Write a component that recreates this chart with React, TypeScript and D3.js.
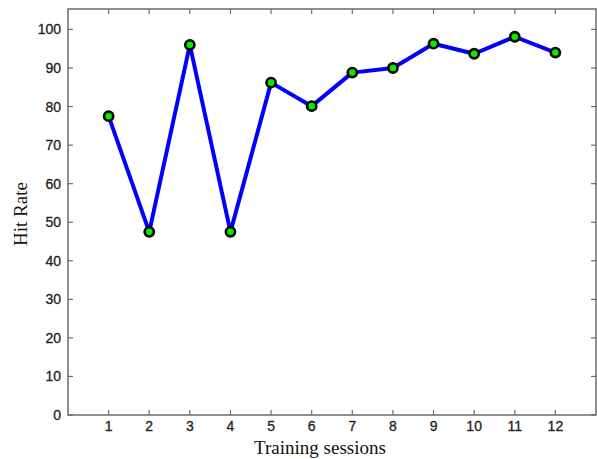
import React from "react";
import * as d3 from "d3";

const sessions = [1, 2, 3, 4, 5, 6, 7, 8, 9, 10, 11, 12];
const hitRate = [77.5, 47.5, 96, 47.5, 86.2, 80.1, 88.8, 90, 96.3, 93.7, 98.1, 94];
const yTicks = [0, 10, 20, 30, 40, 50, 60, 70, 80, 90, 100];
const xTicks = sessions;

export default function App() {
  const W = 597, H = 459;
  const left = 68, right = 596, top = 9, bottom = 415;
  const x = d3.scaleLinear().domain([0, 13]).range([left, right]);
  const y = d3.scaleLinear().domain([0, 105.3]).range([bottom, top]);
  const line = d3.line<number>().x((_, i) => x(sessions[i])).y((d) => y(d));
  const axisColor = "#6b6b6b";
  const tl = 5;
  return (
    <svg width={W} height={H} style={{ position: "absolute", left: 0, top: 0 }}>
      <rect x={0} y={0} width={W} height={H} fill="#fff" />
      <rect x={left} y={top} width={right - left} height={bottom - top} fill="none" stroke={axisColor} strokeWidth={1.5} />
      {yTicks.map((t) => (
        <g key={"y" + t}>
          <line x1={left} x2={left + tl} y1={y(t)} y2={y(t)} stroke={axisColor} strokeWidth={1.2} />
          <line x1={right} x2={right - tl} y1={y(t)} y2={y(t)} stroke={axisColor} strokeWidth={1.2} />
          <text x={left - 7} y={y(t)} dy="0.36em" textAnchor="end" fontFamily="Liberation Sans, Arial, sans-serif" fontSize={14} fill="#222" stroke="#222" strokeWidth={0.3}>
            {t}
          </text>
        </g>
      ))}
      {xTicks.map((t) => (
        <g key={"x" + t}>
          <line x1={x(t)} x2={x(t)} y1={bottom} y2={bottom - tl} stroke={axisColor} strokeWidth={1.2} />
          <line x1={x(t)} x2={x(t)} y1={top} y2={top + tl} stroke={axisColor} strokeWidth={1.2} />
          <text x={x(t)} y={431} textAnchor="middle" fontFamily="Liberation Sans, Arial, sans-serif" fontSize={14} fill="#222" stroke="#222" strokeWidth={0.3}>
            {t}
          </text>
        </g>
      ))}
      <path d={line(hitRate) || ""} fill="none" stroke="#0000ff" strokeWidth={4} strokeLinejoin="round" />
      {hitRate.map((v, i) => (
        <circle key={i} cx={x(sessions[i])} cy={y(v)} r={4.6} fill="#00ee00" stroke="#000" strokeWidth={2.6} />
      ))}
      <text x={320} y={454} textAnchor="middle" fontFamily="Liberation Serif, Times New Roman, serif" fontSize={19} fill="#111">
        Training sessions
      </text>
      <text transform={`translate(27, 214) rotate(-90)`} textAnchor="middle" fontFamily="Liberation Serif, Times New Roman, serif" fontSize={19} fill="#111">
        Hit Rate
      </text>
    </svg>
  );
}
